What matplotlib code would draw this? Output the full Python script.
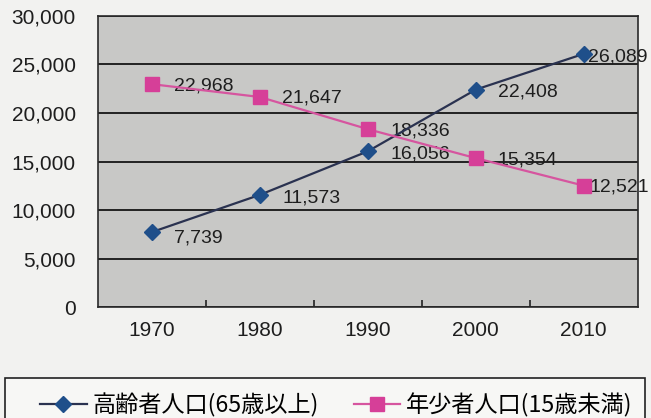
import matplotlib
matplotlib.use('Agg')
import matplotlib.pyplot as plt
from matplotlib.ticker import FuncFormatter
from matplotlib.patches import Rectangle

plt.rcParams['font.family'] = ['Liberation Sans', 'Noto Sans CJK JP']

# データ
years = ['1970', '1980', '1990', '2000', '2010']
koreisha = [7739, 11573, 16056, 22408, 26089]   # 高齢者人口(65歳以上)
nenshosha = [22968, 21647, 18336, 15354, 12521]  # 年少者人口(15歳未満)
label_koreisha = '高齢者人口(65歳以上)'
label_nenshosha = '年少者人口(15歳未満)'

fig = plt.figure(figsize=(6.51, 4.18), dpi=100, facecolor='#f2f2f0')
ax = fig.add_axes([0.1505, 0.265, 0.829, 0.697])
ax.set_facecolor('#c8c8c6')

x = range(len(years))
ax.plot(x, koreisha, color='#2a3250', lw=1.6, marker='D', ms=8,
        mfc='#1f4f8a', mec='#1f4f8a', label=label_koreisha, zorder=4)
ax.plot(x, nenshosha, color='#d6559f', lw=1.6, marker='s', ms=10.5,
        mfc='#d63f98', mec='#d63f98', label=label_nenshosha, zorder=4)

last = len(years) - 1
for i, v in enumerate(koreisha):
    dx = 3 if i == last else 16
    dy = -4 if i == 0 else -2
    ax.annotate(f'{v:,}', (i, v), xytext=(dx, dy), textcoords='offset points',
                ha='left', va='center', fontsize=14, color='#1e1e1e',
                annotation_clip=False, zorder=3)
for i, v in enumerate(nenshosha):
    dx = 4 if i == last else 16
    ax.annotate(f'{v:,}', (i, v), xytext=(dx, -1), textcoords='offset points',
                ha='left', va='center', fontsize=14, color='#1e1e1e',
                annotation_clip=False, zorder=3)

ax.set_xlim(-0.5, len(years) - 0.5)
ax.set_ylim(0, 30000)
ax.set_yticks(range(0, 30001, 5000))
ax.yaxis.set_major_formatter(FuncFormatter(lambda v, p: f'{int(v):,}'))
ax.set_xticks(list(x))
ax.set_xticklabels(years)
ax.set_xticks([i + 0.5 for i in range(len(years) - 1)], minor=True)
ax.tick_params(which='major', length=0, labelsize=15, colors='#1e1e1e')
ax.tick_params(axis='x', which='minor', direction='in', length=5,
               width=1.2, color='#222222')
ax.tick_params(axis='y', pad=16)
ax.tick_params(axis='x', pad=10)
ax.grid(axis='y', color='#151515', lw=1.3)
ax.set_axisbelow(True)
for s in ax.spines.values():
    s.set_color('#2a2a2a')
    s.set_linewidth(1.2)

# 凡例の枠
fig.patches.append(Rectangle((5 / 651, -0.05), 640 / 651, 1 - 378 / 418 + 0.05,
                             transform=fig.transFigure, facecolor='#f7f7f5',
                             edgecolor='#222222', lw=1.2))
leg = fig.legend(loc='center left', bbox_to_anchor=(31 / 651, 1 - 405 / 418),
                 ncol=2, frameon=False, handlelength=2.0,
                 handletextpad=0.25, columnspacing=1.5, borderaxespad=0,
                 prop={'family': ['Noto Sans CJK JP', 'DejaVu Sans'], 'size': 16.7})

plt.savefig('out.png', dpi=100, facecolor=fig.get_facecolor())
